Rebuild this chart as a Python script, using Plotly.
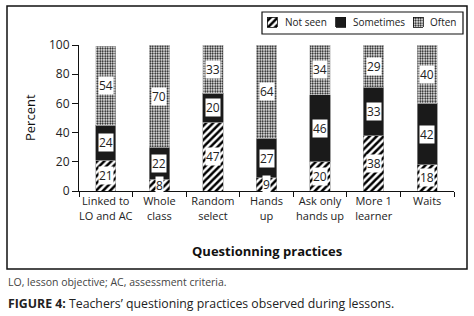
import plotly.graph_objects as go

categories = ["Linked to<br>LO and AC", "Whole<br>class", "Random<br>select", "Hands<br>up",
              "Ask only<br>hands up", "More 1<br>learner", "Waits"]
not_seen = [21, 8, 47, 9, 20, 38, 18]
sometimes = [24, 22, 20, 27, 46, 33, 42]
often = [54, 70, 33, 64, 34, 29, 40]
series_names = ["Not seen", "Sometimes", "Often"]
y_ticks = [0, 20, 40, 60, 80, 100]

FONT = "Open Sans"
W, H = 474, 316

def px_x(x):
    return x / W

def px_y(y):
    return (H - y) / H

PAT_HATCH = dict(shape="/", size=5, solidity=0.5, fgcolor="black", bgcolor="white",
                 fillmode="overlay", fgopacity=1)
PAT_DOTS = dict(shape=".", size=2.5, solidity=0.45, fgcolor="black", bgcolor="white",
                fillmode="overlay", fgopacity=1)
styles = [
    dict(color="white", line=dict(color="#888", width=0.5), pattern=PAT_HATCH),
    dict(color="#1a1a1a", line=dict(color="#888", width=0.8)),
    dict(color="white", line=dict(color="#bbb", width=0.5), pattern=PAT_DOTS),
]

fig = go.Figure()
for name, vals, st in zip(series_names, [not_seen, sometimes, often], styles):
    fig.add_trace(go.Bar(x=categories, y=vals, name=name, width=0.38, marker=st,
                         xaxis="x", yaxis="y", showlegend=False))

# custom compact legend swatches (legend axes in pixel units)
leg_x = [272, 340.5, 418]
for name, st, lx in zip(series_names, styles, leg_x):
    st2 = dict(st)
    st2["line"] = dict(color="#111", width=0.8)
    fig.add_trace(go.Bar(x=[lx], y=[10], base=[17], width=[10], marker=st2,
                         xaxis="x2", yaxis="y2", showlegend=False, hoverinfo="skip"))

annotations = []
for i, c in enumerate(categories):
    base = 0
    for series in (not_seen, sometimes, often):
        v = series[i]
        annotations.append(dict(
            x=c, y=base + v / 2, xref="x", yref="y", text=str(v), showarrow=False,
            font=dict(family=FONT, size=12, color="#222"), bgcolor="white", borderpad=0,
        ))
        base += v

leg_text_x = [283, 351, 428]
for name, tx in zip(series_names, leg_text_x):
    annotations.append(dict(x=px_x(tx), y=px_y(22), xref="paper", yref="paper", text=name,
                            showarrow=False, xanchor="left", yanchor="middle",
                            font=dict(family=FONT, size=10, color="#222")))

annotations += [
    dict(x=px_x(266.5), y=px_y(251), xref="paper", yref="paper", text="<b>Questionning practices</b>",
         showarrow=False, font=dict(family=FONT, size=13, color="#111"), xanchor="center", yanchor="middle"),
    dict(x=px_x(30), y=px_y(118), xref="paper", yref="paper", text="Percent", textangle=-90,
         showarrow=False, font=dict(family=FONT, size=13, color="#111"), xanchor="center", yanchor="middle"),
    dict(x=px_x(6), y=px_y(282), xref="paper", yref="paper",
         text="LO, lesson objective; AC, assessment criteria.",
         showarrow=False, font=dict(family=FONT, size=10.5, color="#444"), xanchor="left", yanchor="middle"),
    dict(x=px_x(6), y=px_y(303), xref="paper", yref="paper",
         text="<b>FIGURE 4:</b> Teachers’ questioning practices observed during lessons.",
         showarrow=False, font=dict(family=FONT, size=12.3, color="#222"), xanchor="left", yanchor="middle"),
]

fig.update_layout(
    width=W, height=H, barmode="stack",
    margin=dict(l=0, r=0, t=0, b=0),
    paper_bgcolor="white", plot_bgcolor="white",
    font=dict(family=FONT, size=11, color="#222"),
    showlegend=False,
    annotations=annotations,
    shapes=[
        dict(type="rect", xref="paper", yref="paper",
             x0=px_x(7), x1=px_x(467), y0=px_y(269), y1=px_y(6),
             line=dict(color="#111", width=1.5), layer="below"),
        dict(type="rect", xref="paper", yref="paper",
             x0=px_x(262), x1=px_x(463), y0=px_y(34), y1=px_y(12),
             line=dict(color="#111", width=1.2), layer="below"),
    ],
    xaxis=dict(type="category", tickson="boundaries", ticks="outside", ticklen=5,
               domain=[px_x(79), px_x(454)], tickangle=0, automargin=False,
               tickcolor="#111", showline=True, linecolor="#111", linewidth=1,
               tickfont=dict(family=FONT, size=11, color="#222"), showgrid=False),
    yaxis=dict(range=[0, 100], tickvals=y_ticks, ticks="outside", ticklen=6, tickcolor="#111",
               domain=[px_y(191), px_y(45)], automargin=False,
               showline=True, linecolor="#111", linewidth=1, showgrid=False, zeroline=False,
               tickfont=dict(family=FONT, size=12, color="#222")),
    xaxis2=dict(domain=[px_x(262), px_x(463)], range=[262, 463], visible=False, anchor="y2",
                fixedrange=True),
    yaxis2=dict(domain=[px_y(34), px_y(12)], range=[34, 12], visible=False, anchor="x2",
                fixedrange=True),
)

fig.write_html("out.html", config={"displayModeBar": False},
               post_script="document.body.style.margin='0';document.body.style.padding='0';")
